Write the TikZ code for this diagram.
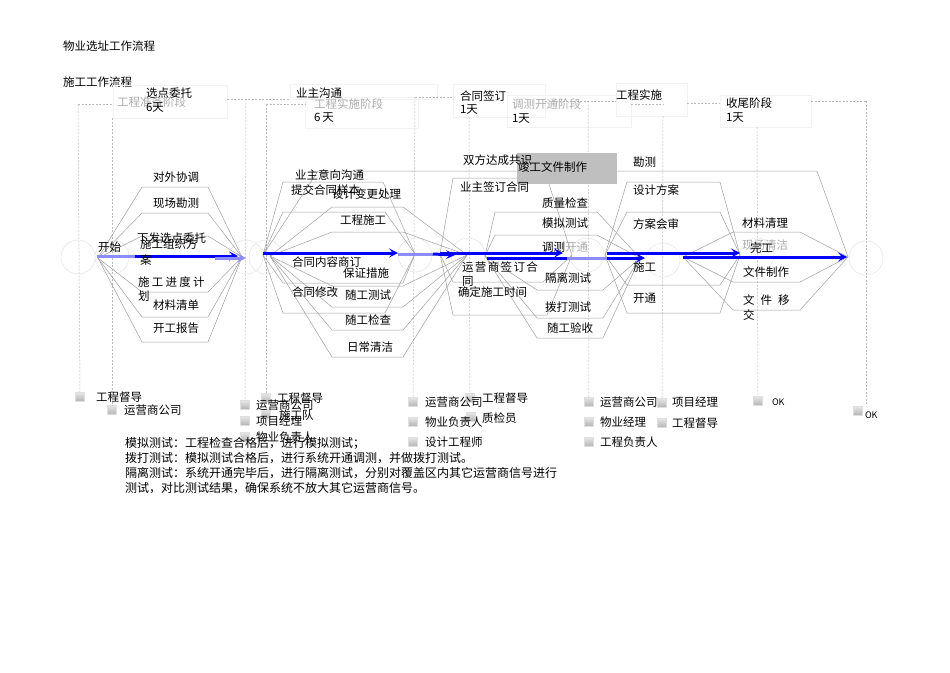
\documentclass[tikz,border=0pt]{standalone}
\usepackage{fontspec}
\setmainfont{Noto Sans CJK SC}
\usetikzlibrary{arrows.meta}
\newcommand\lbl[5][txt]{\node[#1] (#2) at (#3,#4) {#5};}
\newcommand\lanepath[5]{\draw[lane] (#1) -- (#2,#4) -- (#3,#4) -- (#5);}
\begin{document}
\begin{tikzpicture}[x=1pt,y=-1pt,
  every node/.style={inner sep=0pt, outer sep=0pt},
  txt/.style={anchor=west, font=\fontsize{11.5}{13}\selectfont},
  gtxt/.style={txt, text=gray!65},
  lane/.style={draw=gray!75, line width=0.5pt},
  dsh/.style={draw=gray!55, line width=0.5pt, dash pattern=on 2pt off 1.5pt},
  hbox/.style={draw=gray!10, line width=0.5pt},
  circ/.style={circle, draw=gray!22, line width=0.5pt, minimum size=34pt},
  legsq/.style={draw=gray!25, top color=gray!20, bottom color=gray!60, minimum size=9pt},
  flow/.style={draw=blue, line width=3pt, -{Stealth[length=9pt,width=9pt,inset=4pt]}},
  flowlt/.style={draw=blue!45, line width=3pt},
  flowlth/.style={draw=blue!45, line width=3pt, -{Stealth[length=9pt,width=9pt,inset=4pt]}},
  gbox/.style={fill=gray!50, draw=none}
]
\useasboundingbox (0,0) rectangle (950,672);

% ---------- titles
\lbl{ttl}{63}{46}{物业选址工作流程}
\lbl{sub}{63}{82}{施工工作流程}

% ---------- header boxes
\draw[hbox] (113,85) rectangle (227,118);
\draw[hbox] (290,84) rectangle (437,99);
\draw[hbox] (305,97) rectangle (418,128);
\draw[hbox] (453,84) rectangle (545,117);
\draw[hbox] (507,95) rectangle (631,127);
\draw[hbox] (616,83) rectangle (687,116);
\draw[hbox] (720,95) rectangle (811,127);

% ---------- header dashed connectors
\draw[dsh] (78,104) -- (113,104);
\draw[dsh] (227,99) -- (290,99);
\draw[dsh] (266,104) -- (305,104);
\draw[dsh] (415,97) -- (453,97);
\draw[dsh] (545,101) -- (616,101);
\draw[dsh] (631,104) -- (663,104);
\draw[dsh] (687,103) -- (720,103);
\draw[dsh] (811,101) -- (866,101);

% ---------- legend squares
\node[legsq] (q1a) at (80,397) {};
\node[legsq] (q1b) at (112,410) {};
\node[legsq] (q2a) at (245,405) {};
\node[legsq] (q2b) at (245,421) {};
\node[legsq] (q2c) at (245,437) {};
\node[legsq] (q2d) at (266,398) {};
\node[legsq] (q2e) at (266,414) {};
\node[legsq] (q3a) at (413,402) {};
\node[legsq] (q3b) at (413,422) {};
\node[legsq] (q3c) at (413,442) {};
\node[legsq] (q3d) at (470,398) {};
\node[legsq] (q3e) at (471,417) {};
\node[legsq] (q4a) at (589,402) {};
\node[legsq] (q4b) at (589,422) {};
\node[legsq] (q4c) at (589,442) {};
\node[legsq] (q4d) at (662,403) {};
\node[legsq] (q4e) at (662,423) {};
\node[legsq] (q5a) at (758,401) {};
\node[legsq] (q5b) at (858,411) {};

% ---------- vertical dashed lines
\draw[dsh] (78,104) -- (q1a);
\draw[dsh] (112,118) -- (q1b);
\draw[dsh] (246,99) -- (q2a);
\draw[dsh] (266,104) -- (q2d);
\draw[dsh] (415,97) -- (q3a);
\draw[dsh] (469,117) -- (q3d);
\draw[dsh] (588,101) -- (q4a);
\draw[dsh] (663,116) -- (q4d);
\draw[dsh] (757,127) -- (q5a);
\draw[dsh] (866,101) -- (866,404);

% ---------- event circles
\node[circ] (c1) at (78,257) {};
\node[circ] (c2) at (112,257) {};
\node[circ] (c3) at (246,257) {};
\node[circ] (c4) at (266,257) {};
\node[circ] (c5) at (415,255) {};
\node[circ] (c6) at (468,255) {};
\node[circ] (c7) at (587,255) {};
\node[circ] (c8) at (663,260) {};
\node[circ] (c9) at (757,255) {};
\node[circ] (c10) at (866,258) {};

% ---------- convergence points
\coordinate (s1) at (98,258);  \coordinate (e1) at (242,257);
\coordinate (s2) at (263,255); \coordinate (e2) at (415,254);
\coordinate (s2b) at (270,256); \coordinate (e2b) at (467,255);
\coordinate (s3) at (440,254); \coordinate (e3) at (572,255);
\coordinate (s3b) at (485,256); \coordinate (e3b) at (640,258);
\coordinate (s4) at (605,255); \coordinate (e4) at (740,255);
\coordinate (s5) at (683,257); \coordinate (e5) at (848,257);

% ---------- activity lanes
\foreach \yy in {187,213,236,292,317,342} {\lanepath{s1}{142}{208}{\yy}{e1}}
\lanepath{s2}{283}{383}{182}{e2}
\lanepath{s2}{283}{385}{212}{e2}
\lanepath{s2}{283}{403}{283}{e2}
\lanepath{s2}{283}{385}{313}{e2}
\foreach \yy in {207,232,286,307,330,357} {\lanepath{s2b}{332}{403}{\yy}{e2b}}
\lanepath{s3}{453}{547}{178}{e3}
\lanepath{s3}{453}{543}{282}{e3}
\lanepath{s3}{453}{547}{315}{e3}
\lanepath{s3b}{495}{597}{212}{e3b}
\lanepath{s3b}{495}{597}{235}{e3b}
\lanepath{s3b}{537}{603}{290}{e3b}
\lanepath{s3b}{537}{603}{318}{e3b}
\lanepath{s3b}{537}{603}{338}{e3b}
\draw[lane] (s2) -- (318,171) -- (817,171) -- (e5);
\foreach \yy in {182,212,285,313} {\lanepath{s4}{627}{720}{\yy}{e4}}
\foreach \yy in {232,282,310} {\lanepath{s5}{733}{800}{\yy}{e5}}

% ---------- grey box
\node[gbox, minimum width=100pt, minimum height=31pt, anchor=north west] (jg) at (517,153) {};

% ---------- flow arrows
\coordinate (f1a) at (97,256); \coordinate (f1b) at (135,256); \coordinate (f1c) at (238,256);
\coordinate (f1d) at (215,258); \coordinate (f1e) at (246,258);
\draw[flowlt] (f1a) -- (f1b);
\draw[flow] (f1b) -- (f1c);
\draw[flowlth] (f1d) -- (f1e);
\coordinate (f2a) at (263,253); \coordinate (f2b) at (398,253);
\coordinate (f2c) at (398,254); \coordinate (f2d) at (433,254); \coordinate (f2e) at (455,255);
\draw[flow] (f2a) -- (f2b);
\draw[flowlt] (f2c) -- (f2d);
\draw[flow] (f2d) -- (f2e);
\coordinate (f3a) at (440,253); \coordinate (f3b) at (563,253);
\draw[flow] (f3a) -- (f3b);
\coordinate (f4a) at (487,258); \coordinate (f4b) at (567,258); \coordinate (f4c) at (607,258); \coordinate (f4d) at (645,258);
\draw[draw=blue, line width=3pt] (f4a) -- (f4b);
\draw[flowlt] (f4b) -- (f4c);
\draw[flow] (f4c) -- (f4d);
\coordinate (f5a) at (607,253); \coordinate (f5b) at (740,253);
\draw[flow] (f5a) -- (f5b);
\coordinate (f6a) at (683,257); \coordinate (f6b) at (847,257);
\draw[flow] (f6a) -- (f6b);

% ---------- header texts
\lbl{h1a}{146}{93}{选点委托}
\lbl[gtxt]{h1b}{117}{102}{工程准备阶段}
\lbl{h1c}{146}{108}{6天}
\lbl{h2a}{296}{93}{业主沟通}
\lbl[gtxt]{h2b}{314}{104}{工程实施阶段}
\lbl{h2c}{314}{118}{6\kern2pt 天}
\lbl{h3a}{460}{96}{合同签订}
\lbl{h3b}{460}{110}{1天}
\lbl[gtxt]{h4a}{512}{104}{调测开通阶段}
\lbl{h4b}{512}{119}{1天}
\lbl{h5a}{616}{95}{工程实施}
\lbl{h6a}{726}{103}{收尾阶段}
\lbl{h6b}{726}{118}{1天}

% ---------- activity labels phase 1
\lbl{kaishi}{98}{247}{开始}
\lbl{p1a}{153}{177}{对外协调}
\lbl{p1b}{153}{203}{现场勘测}
\lbl{p1c}{137}{238}{下发选点委托}
\lbl{p1d}{140}{244}{施工组织方}
\lbl{p1e}{140}{260}{案}
\lbl{p1f}{138}{282}{施\kern2.3pt 工\kern2.3pt 进\kern2.3pt 度\kern2.3pt 计}
\lbl{p1g}{138}{296}{划}
\lbl{p1h}{153}{305}{材料清单}
\lbl{p1i}{153}{328}{开工报告}

% ---------- phase 2
\lbl{p2a}{295}{175}{业主意向沟通}
\lbl{p2b}{291}{190}{提交合同样本}
\lbl{p2c}{332}{194}{设计变更处理}
\lbl{p2d}{340}{220}{工程施工}
\lbl{p2e}{292}{262}{合同内容商订}
\lbl{p2f}{343}{273}{保证措施}
\lbl{p2g}{292}{292}{合同修改}
\lbl{p2h}{345}{295}{随工测试}
\lbl{p2i}{345}{320}{随工检查}
\lbl{p2j}{347}{347}{日常清洁}

% ---------- phase 3
\lbl{p3a}{463}{160}{双方达成共识}
\lbl{p3b}{518}{167}{竣工文件制作}
\lbl{p3c}{460}{187}{业主签订合同}
\lbl{p3d}{542}{203}{质量检查}
\lbl{p3e}{542}{223}{模拟测试}
\lbl{p3f}{542}{247}{调测}
\lbl[gtxt]{p3g}{565}{247}{开通}
\lbl{p3h}{462}{267}{运\kern1.4pt 营\kern1.4pt 商\kern1.4pt 签\kern1.4pt 订\kern1.4pt 合}
\lbl{p3i}{462}{281}{同}
\lbl{p3j}{545}{278}{隔离测试}
\lbl{p3k}{458}{292}{确定施工时间}
\lbl{p3l}{545}{307}{拨打测试}
\lbl{p3m}{547}{328}{随工验收}

% ---------- phase 4 / 5
\lbl{p4a}{633}{162}{勘测}
\lbl{p4b}{633}{190}{设计方案}
\lbl{p4c}{633}{224}{方案会审}
\lbl{p4d}{633}{267}{施工}
\lbl{p4e}{633}{298}{开通}
\lbl{p5a}{742}{223}{材料清理}
\lbl[gtxt]{p5b}{742}{245}{现场清洁}
\lbl{p5c}{750}{248}{完工}
\lbl{p5d}{743}{272}{文件制作}
\lbl{p5e}{743}{300}{文\kern6pt 件\kern6pt 移}
\lbl{p5f}{743}{315}{交}

% ---------- legend texts
\lbl{l1a}{96}{397}{工程督导}
\lbl{l1b}{124}{410}{运营商公司}
\lbl{l2a}{256}{405}{运营商公司}
\lbl{l2b}{256}{421}{项目经理}
\lbl{l2c}{256}{437}{物业负责人}
\lbl{l2d}{277}{398}{工程督导}
\lbl{l2e}{279}{415}{施工队}
\lbl{l3a}{425}{402}{运营商公司}
\lbl{l3b}{425}{422}{物业负责人}
\lbl{l3c}{425}{442}{设计工程师}
\lbl{l3d}{482}{398}{工程督导}
\lbl{l3e}{482}{418}{质检员}
\lbl{l4a}{600}{402}{运营商公司}
\lbl{l4b}{600}{422}{物业经理}
\lbl{l4c}{600}{442}{工程负责人}
\lbl{l4d}{672}{402}{项目经理}
\lbl{l4e}{672}{423}{工程督导}
\node[anchor=west, font=\fontsize{9}{10}\selectfont] (l5a) at (772,402) {OK};
\node[anchor=west, font=\fontsize{9}{10}\selectfont] (l5b) at (865,415) {OK};

% ---------- note
\node[anchor=north west, align=left, font=\fontsize{12}{15}\selectfont] (note) at (125,437.5)
 {模拟测试：工程检查合格后，进行模拟测试；\\
  拨打测试：模拟测试合格后，进行系统开通调测，并做拨打测试。\\
  隔离测试：系统开通完毕后，进行隔离测试，分别对覆盖区内其它运营商信号进行\\
  测试，对比测试结果，确保系统不放大其它运营商信号。};
\end{tikzpicture}
\end{document}
